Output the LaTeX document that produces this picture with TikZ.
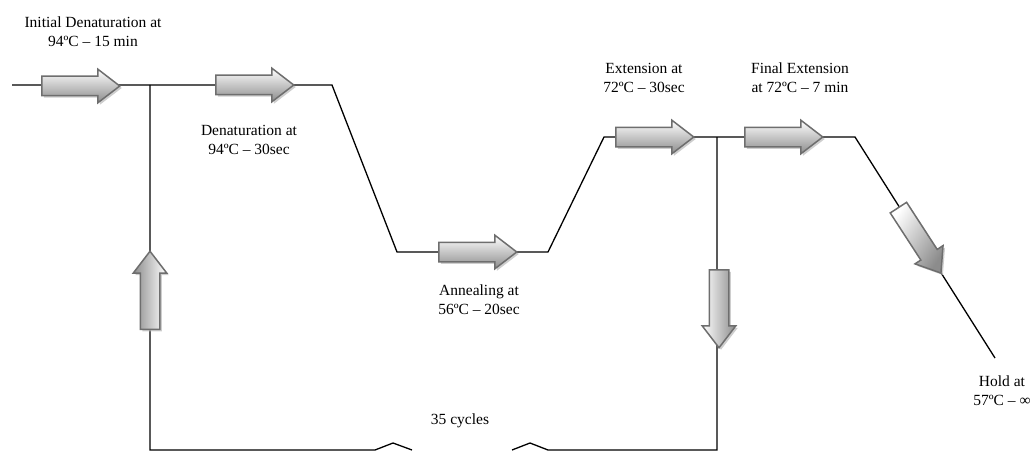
\documentclass[tikz,border=0pt]{standalone}
\usepackage{fontspec}
\setmainfont{Liberation Serif}
\definecolor{arrgray}{HTML}{6E6E6E}
\definecolor{arrdark}{HTML}{8C8C8C}
\usetikzlibrary{shapes.arrows,shadows,positioning}

\begin{document}
\begin{tikzpicture}[x=1pt,y=-1pt,
  blockarr/.style={single arrow, draw=arrgray, line width=1.5pt,
                   minimum height=78pt, inner xsep=0pt, inner ysep=9pt,
                   single arrow head extend=7pt, single arrow tip angle=75,
                   anchor=tail, top color=white, bottom color=arrdark,
                   drop shadow={shadow xshift=2pt, shadow yshift=-2pt,
                                fill=gray!55, opacity=0.7}},
  lbl/.style={align=center, font=\fontsize{15.5}{19}\selectfont},
  prof/.style={draw=black, line width=1.3pt}
]
  \useasboundingbox (0,0) rectangle (1034,452);

  % temperature profile
  \coordinate (start) at (12,85);
  \coordinate (j1) at (150,85);
  \coordinate (d1) at (332,85);
  \coordinate (d2) at (397,252);
  \coordinate (a2) at (548,252);
  \coordinate (e1) at (604,137);
  \coordinate (j2) at (717,137);
  \coordinate (f2) at (855,137);
  \coordinate (hold) at (995,358);

  % cycle loop
  \coordinate (b1) at (150,450);
  \coordinate (lk1) at (375,450);
  \coordinate (lk2) at (393,443);
  \coordinate (lk3) at (412,450);
  \coordinate (rk1) at (512,450);
  \coordinate (rk2) at (530,443);
  \coordinate (rk3) at (548,450);
  \coordinate (b2) at (717,450);

  \draw[prof] (start) -- (j1) -- (d1) -- (d2) -- (a2) -- (e1) -- (j2)
              -- (f2) -- (hold);
  \draw[prof] (j1) -- (b1) -- (lk1) -- (lk2) -- (lk3);
  \draw[prof] (rk1) -- (rk2) -- (rk3) -- (b2) -- (j2);

  % block arrows, placed by their tails
  \node[blockarr] (ini) at (41,86) {};
  \node[blockarr] (den) at (215,85) {};
  \node[blockarr] (ann) at (438,252) {};
  \node[blockarr] (ext) at (615,137) {};
  \node[blockarr] (fin) at (744,137) {};
  \node[blockarr, rotate=90, shading angle=-90] (up) at (150,330) {};
  \node[blockarr, rotate=-90, shading angle=90] (down) at (719,269) {};
  \node[blockarr, rotate=-57, shading angle=57] (cool) at (898,207) {};

  \node[lbl] (inilbl) at (93,32) {Initial Denaturation at\\94ºC – 15 min};
  \node[lbl] (denlbl) at (249,140) {Denaturation at\\94ºC – 30sec};
  \node[lbl] (annlbl) at (479,300) {Annealing at\\56ºC – 20sec};
  \node[lbl] (extlbl) at (644,78) {Extension at\\72ºC – 30sec};
  \node[lbl] (finlbl) at (800,78) {Final Extension\\at 72ºC – 7 min};
  \node[lbl] (holdlbl) at (1002,391) {Hold at\\57ºC – ∞};
  \node[lbl] (cyc) at (460,421) {35 cycles};

\end{tikzpicture}
\end{document}
